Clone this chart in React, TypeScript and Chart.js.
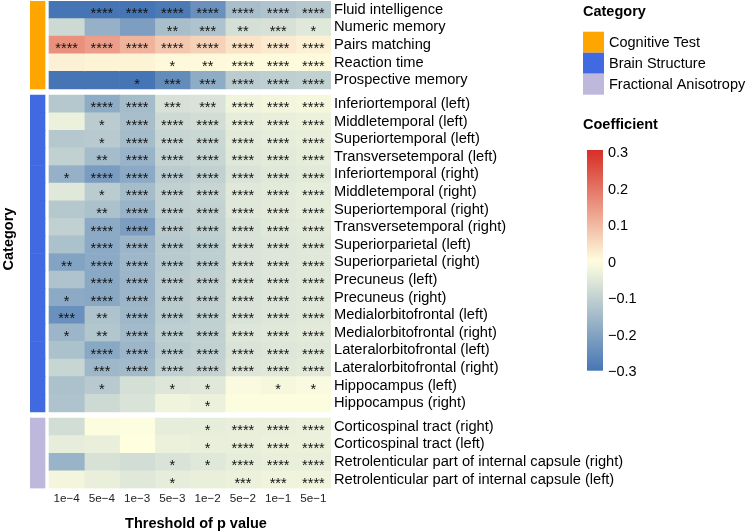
import React, { useEffect, useRef } from "react";
import { Chart, registerables } from "chart.js";

Chart.register(...registerables);

const thresholds = ["1e\u22124", "5e\u22124", "1e\u22123", "5e\u22123", "1e\u22122", "5e\u22122", "1e\u22121", "5e\u22121"];

const categoryNames = ["Cognitive Test", "Brain Structure", "Fractional Anisotropy"];
const categoryColors = ["#FFA500", "#4169E1", "#BDB8DC"];

const cognitiveLabels = ["Fluid intelligence", "Numeric memory", "Pairs matching", "Reaction time", "Prospective memory"];
const cognitiveCoef = [
  [-0.30, -0.30, -0.30, -0.29, -0.24, -0.14, -0.13, -0.12],
  [-0.08, -0.17, -0.21, -0.14, -0.13, -0.07, -0.065, -0.05],
  [0.16, 0.14, 0.11, 0.08, 0.065, 0.04, 0.03, 0.02],
  [0.02, 0.018, 0.016, 0.008, 0.008, 0.006, 0.006, 0.006],
  [-0.30, -0.30, -0.30, -0.25, -0.18, -0.11, -0.105, -0.10],
];
const cognitiveStars = [
  ["", "****", "****", "****", "****", "****", "****", "****"],
  ["", "", "", "**", "***", "**", "***", "*"],
  ["****", "****", "****", "****", "****", "****", "****", "****"],
  ["", "", "", "*", "**", "****", "****", "****"],
  ["", "", "*", "***", "***", "****", "****", "****"],
];

const brainLabels = [
  "Inferiortemporal (left)", "Middletemporal (left)", "Superiortemporal (left)", "Transversetemporal (left)",
  "Inferiortemporal (right)", "Middletemporal (right)", "Superiortemporal (right)", "Transversetemporal (right)",
  "Superiorparietal (left)", "Superiorparietal (right)", "Precuneus (left)", "Precuneus (right)",
  "Medialorbitofrontal (left)", "Medialorbitofrontal (right)", "Lateralorbitofrontal (left)", "Lateralorbitofrontal (right)",
  "Hippocampus (left)", "Hippocampus (right)",
];
const brainCoef = [
  [-0.12, -0.18, -0.145, -0.065, -0.06, -0.025, -0.02, -0.015],
  [-0.03, -0.11, -0.14, -0.08, -0.075, -0.04, -0.035, -0.03],
  [-0.12, -0.115, -0.145, -0.09, -0.085, -0.045, -0.04, -0.035],
  [-0.10, -0.145, -0.165, -0.095, -0.09, -0.05, -0.045, -0.04],
  [-0.17, -0.215, -0.185, -0.11, -0.10, -0.06, -0.05, -0.045],
  [-0.05, -0.11, -0.145, -0.10, -0.09, -0.05, -0.045, -0.04],
  [-0.12, -0.135, -0.165, -0.10, -0.095, -0.05, -0.045, -0.04],
  [-0.10, -0.185, -0.21, -0.11, -0.10, -0.06, -0.05, -0.045],
  [-0.135, -0.185, -0.16, -0.115, -0.105, -0.06, -0.055, -0.05],
  [-0.20, -0.185, -0.155, -0.115, -0.105, -0.06, -0.055, -0.05],
  [-0.13, -0.19, -0.16, -0.11, -0.10, -0.06, -0.055, -0.05],
  [-0.185, -0.19, -0.16, -0.11, -0.10, -0.06, -0.055, -0.05],
  [-0.24, -0.13, -0.155, -0.11, -0.10, -0.06, -0.055, -0.05],
  [-0.16, -0.125, -0.15, -0.105, -0.10, -0.055, -0.05, -0.045],
  [-0.135, -0.19, -0.16, -0.11, -0.10, -0.06, -0.055, -0.05],
  [-0.09, -0.155, -0.15, -0.10, -0.095, -0.055, -0.05, -0.045],
  [-0.135, -0.115, -0.07, -0.055, -0.05, -0.01, -0.015, -0.01],
  [-0.13, -0.08, -0.06, -0.025, -0.03, -0.005, -0.005, -0.005],
];
const brainStars = [
  ["", "****", "****", "***", "***", "****", "****", "****"],
  ["", "*", "****", "****", "****", "****", "****", "****"],
  ["", "*", "****", "****", "****", "****", "****", "****"],
  ["", "**", "****", "****", "****", "****", "****", "****"],
  ["*", "****", "****", "****", "****", "****", "****", "****"],
  ["", "*", "****", "****", "****", "****", "****", "****"],
  ["", "**", "****", "****", "****", "****", "****", "****"],
  ["", "****", "****", "****", "****", "****", "****", "****"],
  ["", "****", "****", "****", "****", "****", "****", "****"],
  ["**", "****", "****", "****", "****", "****", "****", "****"],
  ["", "****", "****", "****", "****", "****", "****", "****"],
  ["*", "****", "****", "****", "****", "****", "****", "****"],
  ["***", "**", "****", "****", "****", "****", "****", "****"],
  ["*", "**", "****", "****", "****", "****", "****", "****"],
  ["", "****", "****", "****", "****", "****", "****", "****"],
  ["", "***", "****", "****", "****", "****", "****", "****"],
  ["", "*", "", "*", "*", "", "*", "*"],
  ["", "", "", "", "*", "", "", ""],
];

const faLabels = [
  "Corticospinal tract (right)", "Corticospinal tract (left)",
  "Retrolenticular part of internal capsule (right)", "Retrolenticular part of internal capsule (left)",
];
const faCoef = [
  [-0.075, -0.005, -0.003, -0.04, -0.04, -0.035, -0.035, -0.03],
  [-0.04, -0.035, 0.0, -0.03, -0.035, -0.035, -0.03, -0.03],
  [-0.165, -0.065, -0.075, -0.06, -0.05, -0.04, -0.035, -0.035],
  [-0.02, -0.035, -0.05, -0.04, -0.035, -0.03, -0.025, -0.025],
];
const faStars = [
  ["", "", "", "", "*", "****", "****", "****"],
  ["", "", "", "", "*", "****", "****", "****"],
  ["", "", "", "*", "*", "****", "****", "****"],
  ["", "", "", "*", "", "***", "***", "****"],
];

const colorbarTicks = [0.3, 0.2, 0.1, 0, -0.1, -0.2, -0.3];

const GAP = 0.35;
const FONT = "'Liberation Sans', Arial, Helvetica, sans-serif";

const BLUE = [69, 117, 180];
const MID = [255, 255, 224];
const RED = [215, 48, 39];

function colorFor(v: number): string {
  const t = Math.max(-1, Math.min(1, v / 0.3));
  const end = t < 0 ? BLUE : RED;
  const k = Math.abs(t);
  const c = MID.map((m, i) => Math.round(m + (end[i] - m) * k));
  return `rgb(${c[0]},${c[1]},${c[2]})`;
}

function fmtTick(v: number): string {
  if (v === 0) return "0";
  return (v < 0 ? "\u2212" : "") + Math.abs(v).toFixed(1);
}

export default function App() {
  const ref = useRef<HTMLCanvasElement>(null);

  useEffect(() => {
    const groups = [
      { labels: cognitiveLabels, coef: cognitiveCoef, stars: cognitiveStars },
      { labels: brainLabels, coef: brainCoef, stars: brainStars },
      { labels: faLabels, coef: faCoef, stars: faStars },
    ];
    type Row = { label: string; coef: number[]; stars: string[]; group: number; pos: number };
    const rows: Row[] = [];
    let idx = 0;
    groups.forEach((g, gi) => {
      g.labels.forEach((l, i) => {
        rows.push({ label: l, coef: g.coef[i], stars: g.stars[i], group: gi, pos: idx + gi * GAP });
        idx++;
      });
    });
    const positions = rows.map((r) => r.pos);
    const labelAt = (v: number) => {
      const r = rows.find((rr) => Math.abs(rr.pos - v) < 1e-6);
      return r ? r.label : "";
    };

    const STRIP_MIN = -0.54;
    const STRIP_MAX = -0.114;

    const datasets: any[] = thresholds.map((t, c) => ({
      label: t,
      data: rows.map((r) => ({ x: [c, c + 1], y: r.pos })),
      backgroundColor: rows.map((r) => colorFor(r.coef[c])),
      borderWidth: 0,
      barPercentage: 1,
      categoryPercentage: 1,
      grouped: false,
    }));
    datasets.push({
      label: "Category",
      data: rows.map((r) => ({ x: [STRIP_MIN, STRIP_MAX], y: r.pos })),
      backgroundColor: rows.map((r) => categoryColors[r.group]),
      borderWidth: 0,
      barPercentage: 1,
      categoryPercentage: 1,
      grouped: false,
    });

    const starPlugin = {
      id: "stars",
      afterDatasetsDraw(chart: any) {
        const ctx = chart.ctx;
        ctx.save();
        ctx.font = `14.5px ${FONT}`;
        ctx.fillStyle = "#111";
        ctx.textAlign = "center";
        ctx.textBaseline = "alphabetic";
        for (let c = 0; c < thresholds.length; c++) {
          const meta = chart.getDatasetMeta(c);
          meta.data.forEach((el: any, i: number) => {
            const s = rows[i].stars[c];
            if (!s) return;
            const p = el.getCenterPoint();
            ctx.fillText(s, p.x, p.y + 8.4);
          });
        }
        ctx.restore();
      },
    };

    const legendPlugin = {
      id: "legendsAndTitles",
      afterDraw(chart: any) {
        const ctx = chart.ctx;
        ctx.save();
        ctx.fillStyle = "#000";
        ctx.textBaseline = "alphabetic";
        // axis titles
        ctx.font = `bold 14.5px ${FONT}`;
        ctx.textAlign = "center";
        ctx.fillText("Threshold of p value", 196, 527.5);
        ctx.save();
        ctx.translate(13.3, 239);
        ctx.rotate(-Math.PI / 2);
        ctx.fillText("Category", 0, 0);
        ctx.restore();

        // category legend
        ctx.textAlign = "left";
        ctx.font = `bold 14.5px ${FONT}`;
        ctx.fillText("Category", 583, 15.5);
        ctx.font = `14.5px ${FONT}`;
        categoryNames.forEach((n, i) => {
          ctx.fillStyle = categoryColors[i];
          ctx.fillRect(583, 31.7 + i * 21, 21, 21);
          ctx.fillStyle = "#000";
          ctx.fillText(n, 609, 47.3 + i * 21);
        });

        // colorbar
        ctx.font = `bold 14.5px ${FONT}`;
        ctx.fillText("Coefficient", 583, 129);
        const yOf = (v: number) => 261.7 - v * 365;
        const top = 150, bottom = 370.7;
        const grad = ctx.createLinearGradient(0, top, 0, bottom);
        for (let k = 0; k <= 20; k++) {
          const f = k / 20;
          const v = (261.7 - (top + f * (bottom - top))) / 365;
          grad.addColorStop(f, colorFor(v));
        }
        ctx.fillStyle = grad;
        ctx.fillRect(587, top, 16, bottom - top);
        ctx.fillStyle = "#000";
        ctx.font = `14.5px ${FONT}`;
        colorbarTicks.forEach((v) => {
          ctx.fillText(fmtTick(v), 608, yOf(v) + 5.2);
        });
        ctx.restore();
      },
    };

    const chart = new Chart(ref.current as HTMLCanvasElement, {
      type: "bar",
      data: { datasets },
      options: {
        indexAxis: "y",
        responsive: false,
        animation: false,
        events: [],
        layout: { padding: { left: 30, top: 1, right: 0, bottom: 0 } },
        plugins: { legend: { display: false }, tooltip: { enabled: false } },
        scales: {
          x: {
            type: "linear",
            offset: false,
            min: STRIP_MIN,
            max: 8,
            grid: { display: false, drawTicks: false },
            border: { display: false },
            afterBuildTicks: (s: any) => {
              s.ticks = thresholds.map((_, i) => ({ value: i + 0.5 }));
            },
            afterFit: (s: any) => {
              s.height = 43.6;
              s.paddingLeft = 0;
              s.paddingRight = 0;
            },
            ticks: {
              autoSkip: false,
              maxRotation: 0,
              padding: 3,
              color: "#222",
              font: { family: FONT, size: 11.7 },
              callback: (v: any) => thresholds[Math.floor(Number(v))] ?? "",
            },
          },
          y: {
            type: "linear",
            position: "right",
            offset: false,
            reverse: true,
            min: -0.5,
            max: rows.length - 0.5 + 2 * GAP,
            grid: { display: false, drawTicks: false },
            border: { display: false },
            afterBuildTicks: (s: any) => {
              s.ticks = positions.map((v) => ({ value: v }));
            },
            afterFit: (s: any) => {
              s.width = 747 - 331;
              s.paddingTop = 0;
              s.paddingBottom = 0;
            },
            ticks: {
              autoSkip: false,
              padding: 3,
              color: "#000",
              font: { family: FONT, size: 14.67 },
              callback: (v: any) => labelAt(Number(v)),
            },
          },
        },
      } as any,
      plugins: [starPlugin, legendPlugin],
    });
    return () => chart.destroy();
  }, []);

  return (
    <div style={{ position: "absolute", left: 0, top: 0, width: 747, height: 532, background: "#fff" }}>
      <canvas ref={ref} width={747} height={532} style={{ display: "block" }} />
    </div>
  );
}
